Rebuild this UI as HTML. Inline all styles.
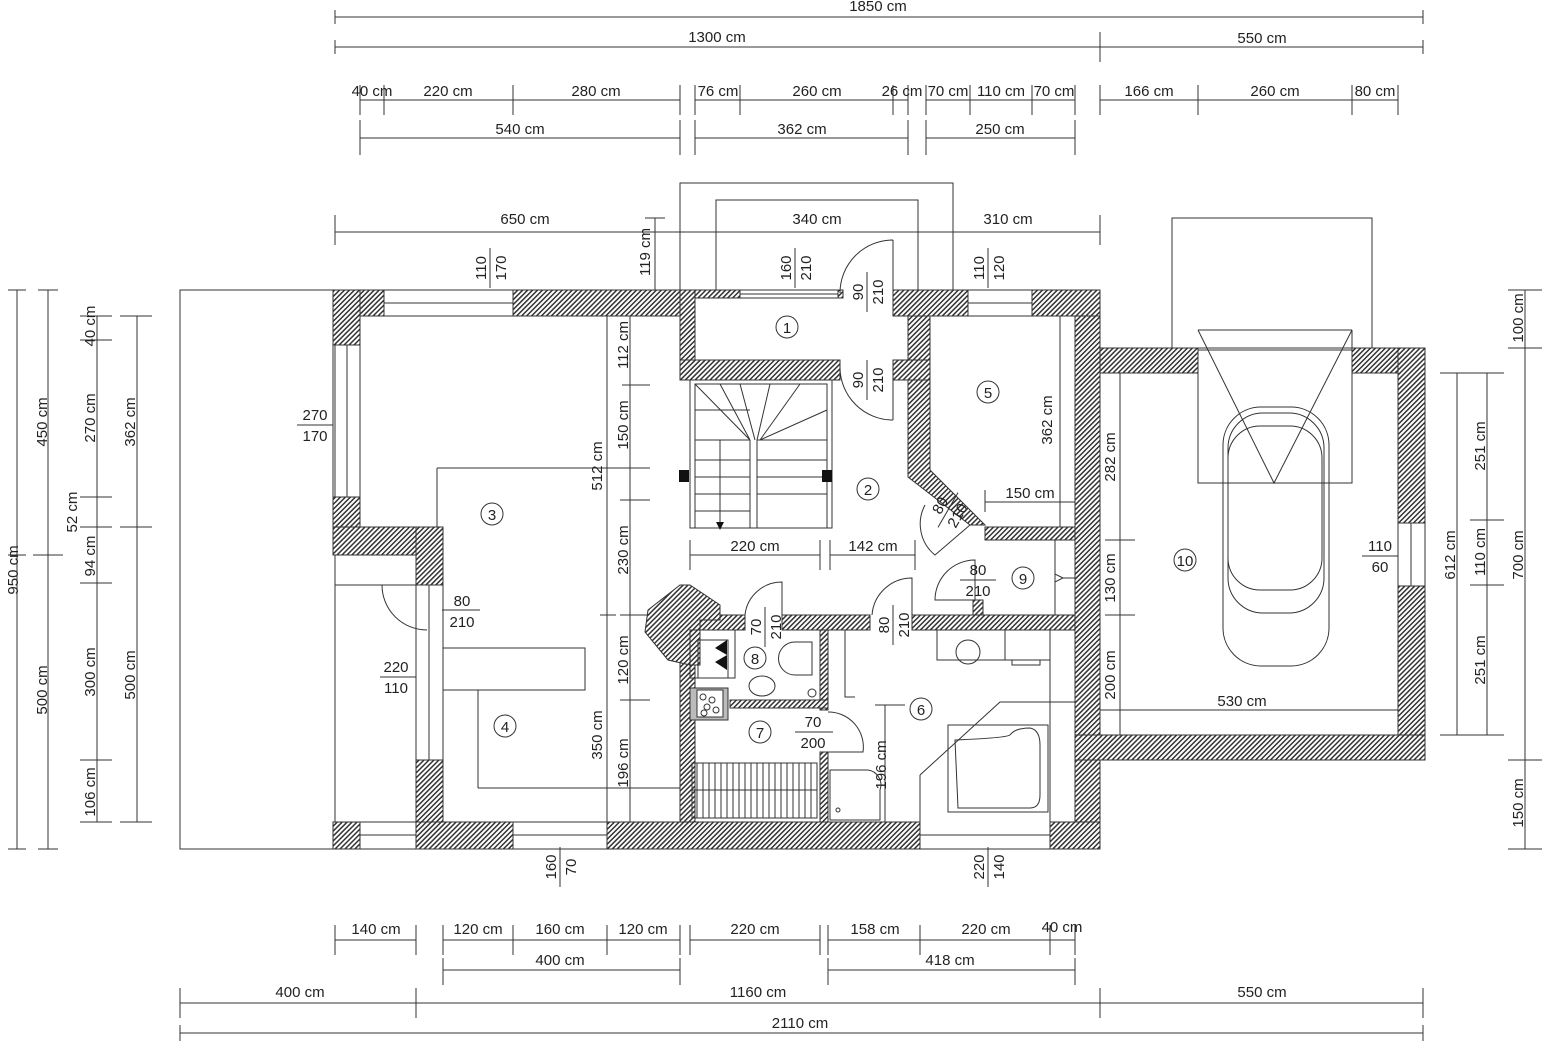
<!DOCTYPE html>
<html><head><meta charset="utf-8"><style>
html,body{margin:0;padding:0;background:#fff}
svg{display:block}
text{font-family:"Liberation Sans",sans-serif;font-size:15px;fill:#222}
.l{stroke:#333;stroke-width:1;fill:none}
.h{fill:url(#hat);stroke:#333;stroke-width:1}
</style></head><body>
<svg width="1542" height="1051" viewBox="0 0 1542 1051" xmlns="http://www.w3.org/2000/svg">
<defs>
<pattern id="hat" width="3.5" height="3.5" patternUnits="userSpaceOnUse" patternTransform="rotate(45)">
<rect width="3.5" height="3.5" fill="#fff"/><rect width="1.5" height="3.5" fill="#333"/></pattern>
</defs>

<g class="l">
<line x1="335" y1="17" x2="1423" y2="17"/><line x1="335" y1="10" x2="335" y2="24"/><line x1="1423" y1="10" x2="1423" y2="24"/>
<line x1="335" y1="47" x2="1423" y2="47"/><line x1="335" y1="40" x2="335" y2="54"/><line x1="1100" y1="32" x2="1100" y2="62"/><line x1="1423" y1="40" x2="1423" y2="54"/>
<line x1="360" y1="100" x2="680" y2="100"/><line x1="695" y1="100" x2="908" y2="100"/><line x1="926" y1="100" x2="1075" y2="100"/><line x1="1100" y1="100" x2="1398" y2="100"/>
<path d="M360 85V115M384 85V115M513 85V115M680 85V115M695 85V115M740 85V115M893 85V115M908 85V115M926 85V115M970 85V115M1032 85V115M1075 85V115M1100 85V115M1198 85V115M1352 85V115M1398 85V115"/>
<line x1="360" y1="138" x2="680" y2="138"/><line x1="695" y1="138" x2="908" y2="138"/><line x1="926" y1="138" x2="1075" y2="138"/>
<path d="M360 120V155M680 120V155M695 120V155M908 120V155M926 120V155M1075 120V155"/>
<line x1="335" y1="232" x2="1100" y2="232"/>
<path d="M335 215V245M716 215V245M918 215V245M1100 215V245"/>
<line x1="335" y1="940" x2="416" y2="940"/><line x1="443" y1="940" x2="680" y2="940"/><line x1="690" y1="940" x2="820" y2="940"/><line x1="828" y1="940" x2="1075" y2="940"/>
<path d="M335 925V955M416 925V955M443 925V955M513 925V955M607 925V955M680 925V955M690 925V955M820 925V955M828 925V955M920 925V955M1050 925V955M1075 925V955"/>
<line x1="443" y1="970" x2="680" y2="970"/><line x1="828" y1="970" x2="1075" y2="970"/>
<path d="M443 958V985M680 958V985M828 958V985M1075 958V985"/>
<line x1="180" y1="1003" x2="1423" y2="1003"/>
<path d="M180 988V1018M416 988V1018M1100 988V1018M1423 988V1018"/>
<line x1="180" y1="1033" x2="1423" y2="1033"/><path d="M180 1025V1041M1423 1025V1041"/>
<line x1="17" y1="290" x2="17" y2="849"/><path d="M8 290H26M8 849H26M8 555H26"/>
<line x1="48" y1="290" x2="48" y2="849"/><path d="M38 290H58M33 555H63M38 849H58"/>
<line x1="97" y1="316" x2="97" y2="822"/><path d="M80 316H112M80 340H112M80 497H112M80 527H112M80 583H112M80 760H112M80 822H112"/>
<line x1="137" y1="316" x2="137" y2="822"/><path d="M120 316H152M120 527H152M120 822H152"/>
<line x1="1525" y1="290" x2="1525" y2="849"/><path d="M1508 290H1542M1508 348H1542M1508 760H1542M1508 849H1542"/>
<line x1="1487" y1="373" x2="1487" y2="735"/><path d="M1470 373H1504M1470 520H1504M1470 585H1504M1470 735H1504"/>
<line x1="1457" y1="373" x2="1457" y2="735"/><path d="M1440 373H1474M1440 735H1474"/>
<line x1="607" y1="316" x2="607" y2="822"/><path d="M600 615H616"/>
<line x1="630" y1="316" x2="630" y2="822"/><path d="M622 385H650M620 468H650M620 500H650M620 615H650M620 700H650"/>
<path d="M437 468H640M437 468V527"/>
<line x1="1120" y1="373" x2="1120" y2="760"/><path d="M1105 540H1135M1105 615H1135"/>
<line x1="1060" y1="316" x2="1060" y2="527"/>
<line x1="885" y1="705" x2="885" y2="822"/><path d="M875 705H905"/>
<line x1="690" y1="555" x2="820" y2="555"/><line x1="830" y1="555" x2="915" y2="555"/><path d="M690 540V570M820 540V570M830 540V570M915 540V570"/>
<line x1="985" y1="502" x2="1075" y2="502"/><path d="M985 490V512"/>
<line x1="1085" y1="710" x2="1398" y2="710"/>
<line x1="655" y1="218" x2="655" y2="290"/><path d="M645 218H665"/>
<line x1="478" y1="788" x2="680" y2="788"/><path d="M478 690V788"/>
<path d="M1063 578H1075M1063 578L1055 574V582Z"/>
</g>

<g text-anchor="middle">
<text x="878" y="11">1850 cm</text>
<text x="717" y="42">1300 cm</text><text x="1262" y="43">550 cm</text>
<text x="372" y="96">40 cm</text><text x="448" y="96">220 cm</text><text x="596" y="96">280 cm</text>
<text x="718" y="96">76 cm</text><text x="817" y="96">260 cm</text><text x="902" y="96">26 cm</text>
<text x="948" y="96">70 cm</text><text x="1001" y="96">110 cm</text><text x="1054" y="96">70 cm</text>
<text x="1149" y="96">166 cm</text><text x="1275" y="96">260 cm</text><text x="1375" y="96">80 cm</text>
<text x="520" y="134">540 cm</text><text x="802" y="134">362 cm</text><text x="1000" y="134">250 cm</text>
<text x="525" y="224">650 cm</text><text x="817" y="224">340 cm</text><text x="1008" y="224">310 cm</text>
<text x="376" y="934">140 cm</text><text x="478" y="934">120 cm</text><text x="560" y="934">160 cm</text><text x="643" y="934">120 cm</text>
<text x="755" y="934">220 cm</text><text x="875" y="934">158 cm</text><text x="986" y="934">220 cm</text><text x="1062" y="932">40 cm</text>
<text x="560" y="965">400 cm</text><text x="950" y="965">418 cm</text>
<text x="300" y="997">400 cm</text><text x="758" y="997">1160 cm</text><text x="1262" y="997">550 cm</text>
<text x="800" y="1028">2110 cm</text>
<text x="755" y="551">220 cm</text><text x="873" y="551">142 cm</text><text x="1030" y="498">150 cm</text><text x="1242" y="706">530 cm</text>
</g>
<g text-anchor="middle">
<text transform="rotate(-90 13 570)" x="13" y="575">950 cm</text>
<text transform="rotate(-90 42 422)" x="42" y="427">450 cm</text>
<text transform="rotate(-90 42 690)" x="42" y="695">500 cm</text>
<text transform="rotate(-90 90 326)" x="90" y="331">40 cm</text>
<text transform="rotate(-90 90 418)" x="90" y="423">270 cm</text>
<text transform="rotate(-90 72 512)" x="72" y="517">52 cm</text>
<text transform="rotate(-90 90 556)" x="90" y="561">94 cm</text>
<text transform="rotate(-90 90 672)" x="90" y="677">300 cm</text>
<text transform="rotate(-90 90 792)" x="90" y="797">106 cm</text>
<text transform="rotate(-90 130 422)" x="130" y="427">362 cm</text>
<text transform="rotate(-90 130 675)" x="130" y="680">500 cm</text>
<text transform="rotate(-90 1518 318)" x="1518" y="323">100 cm</text>
<text transform="rotate(-90 1518 555)" x="1518" y="560">700 cm</text>
<text transform="rotate(-90 1518 803)" x="1518" y="808">150 cm</text>
<text transform="rotate(-90 1480 446)" x="1480" y="451">251 cm</text>
<text transform="rotate(-90 1480 552)" x="1480" y="557">110 cm</text>
<text transform="rotate(-90 1480 660)" x="1480" y="665">251 cm</text>
<text transform="rotate(-90 1450 555)" x="1450" y="560">612 cm</text>
<text transform="rotate(-90 597 466)" x="597" y="471">512 cm</text>
<text transform="rotate(-90 597 735)" x="597" y="740">350 cm</text>
<text transform="rotate(-90 623 345)" x="623" y="350">112 cm</text>
<text transform="rotate(-90 623 425)" x="623" y="430">150 cm</text>
<text transform="rotate(-90 623 550)" x="623" y="555">230 cm</text>
<text transform="rotate(-90 623 660)" x="623" y="665">120 cm</text>
<text transform="rotate(-90 623 763)" x="623" y="768">196 cm</text>
<text transform="rotate(-90 645 252)" x="645" y="257">119 cm</text>
<text transform="rotate(-90 1110 457)" x="1110" y="462">282 cm</text>
<text transform="rotate(-90 1110 578)" x="1110" y="583">130 cm</text>
<text transform="rotate(-90 1110 675)" x="1110" y="680">200 cm</text>
<text transform="rotate(-90 1047 420)" x="1047" y="425">362 cm</text>
<text transform="rotate(-90 881 765)" x="881" y="770">196 cm</text>
</g>

<rect class="l" x="180" y="290" width="155" height="559"/>
<path class="l" d="M680 290V183H953V290M716 290V200H918V290"/>
<rect class="l" x="1172" y="218" width="200" height="130"/>

<g class="h">
<rect x="333" y="290" width="51" height="26"/><rect x="333" y="290" width="27" height="55"/>
<rect x="513" y="290" width="182" height="26"/>
<rect x="680" y="290" width="15" height="90"/><rect x="695" y="290" width="45" height="8"/><rect x="838" y="290" width="5" height="8"/>
<rect x="680" y="360" width="160" height="20"/><rect x="893" y="360" width="37" height="20"/>
<rect x="893" y="290" width="75" height="26"/><rect x="1032" y="290" width="68" height="26"/>
<rect x="908" y="316" width="22" height="44"/>
<path d="M908 380H930V470L985 525H970L908 477Z"/>
<rect x="1075" y="316" width="25" height="533"/>
<rect x="985" y="527" width="90" height="13"/>
<rect x="333" y="497" width="27" height="58"/><rect x="333" y="527" width="110" height="28"/><rect x="416" y="527" width="27" height="58"/>
<rect x="416" y="760" width="27" height="89"/><rect x="333" y="822" width="27" height="27"/>
<rect x="416" y="822" width="97" height="27"/><rect x="607" y="822" width="313" height="27"/><rect x="1050" y="822" width="50" height="27"/>
<rect x="680" y="615" width="15" height="207"/><rect x="680" y="615" width="65" height="15"/><rect x="782" y="615" width="88" height="15"/><rect x="912" y="615" width="163" height="15"/>
<rect x="820" y="630" width="8" height="80"/><rect x="820" y="752" width="8" height="70"/><rect x="730" y="700" width="98" height="8"/>
<rect x="973" y="600" width="10" height="15"/>
<path d="M648 610L680 585H690L720 605V620H700V665H690L668 660L645 632Z"/>
<rect x="1100" y="348" width="98" height="25"/><rect x="1352" y="348" width="73" height="25"/>
<rect x="1398" y="348" width="27" height="175"/><rect x="1398" y="586" width="27" height="174"/>
<rect x="1075" y="735" width="350" height="25"/>
</g>
<g class="l">
<path d="M384 290H513M384 303H513M384 316H513"/>
<path d="M740 290H838M740 294H838M740 298H838"/>
<path d="M968 290H1032M968 303H1032M968 316H1032"/>
<path d="M333 345V497M347 345V497M360 345V497"/>
<path d="M416 585V760M429 585V760M443 585V760"/>
<path d="M335 585V822M335 585H416"/>
<path d="M360 822H416M360 835H416M360 849H416"/>
<path d="M513 822H607M513 835H607M513 849H607"/>
<path d="M920 822V849H1050V822M920 835H1050"/>
<path d="M1398 523V586M1411 523V586M1425 523V586"/>
<path d="M1075 540V615H1055V540M1075 615H973"/>
<path d="M1198 330H1352M1198 373V483H1352V330M1198 350H1352M1198 330L1274 483L1352 330"/>
<rect x="1223" y="407" width="106" height="259" rx="38"/>
<rect x="1228" y="413" width="96" height="200" rx="35"/>
<rect x="1228" y="426" width="94" height="164" rx="32"/>
<path d="M893 240A53 53 0 0 0 840 293M893 240V293"/>
<path d="M893 420A53 53 0 0 1 840 367M893 420V367"/>
<path d="M925 505A40 40 0 0 0 935 555L970 525"/>
<path d="M935 600A40 40 0 0 1 975 560V600Z"/>
<path d="M872 615A40 40 0 0 1 912 578V615"/>
<path d="M745 615A37 37 0 0 1 782 582V615"/>
<path d="M828 712A35 35 0 0 1 863 752H828"/>
<path d="M382 585A45 45 0 0 0 427 630"/>
<rect x="443" y="648" width="142" height="42"/>
<rect x="690" y="380" width="142" height="148"/>
<rect x="695" y="384" width="132" height="144"/>
<path d="M750 440V528M757 440V528M695 410H750M695 440H750M757 440H827M695 460H750M695 477H750M695 494H750M695 511H750M757 460H827M757 477H827M757 494H827"/>
<path d="M695 384L750 440M720 384L750 440M740 384L755 440M770 384L757 440M800 384L760 440M827 410L760 440"/>
<path d="M720 440V522"/>
</g>
<path d="M716 522L724 522L720 530Z" fill="#111"/>
<rect x="679" y="470" width="10" height="12" fill="#111"/><rect x="822" y="470" width="10" height="12" fill="#111"/>
<g class="l">
<rect x="690" y="630" width="45" height="48"/><rect x="698" y="640" width="30" height="38"/>
<rect x="690" y="688" width="38" height="32" fill="#bbb"/><rect x="697" y="690" width="26" height="27" fill="#fff"/>
<rect x="692" y="763" width="125" height="55"/><path d="M692 790H817"/>
<path d="M697 763V818M703 763V818M709 763V818M715 763V818M721 763V818M727 763V818M733 763V818M739 763V818M745 763V818M751 763V818M757 763V818M763 763V818M769 763V818M775 763V818M781 763V818M787 763V818M793 763V818M799 763V818M805 763V818M811 763V818"/>
<ellipse cx="762" cy="686" rx="13" ry="10"/>
<path d="M795 642H812V675H795A14 14 0 0 1 795 642Z"/>
<circle cx="812" cy="693" r="4"/>
<path d="M830 770H868A15 15 0 0 1 880 790V820H830Z"/><circle cx="838" cy="810" r="2"/>
<path d="M937 630V660H1050V630M1005 630V660"/><circle cx="968" cy="652" r="12"/><rect x="1012" y="660" width="28" height="5"/>
<path d="M1050 645V822M920 775L1000 702H1075M920 775V822"/>
<path d="M948 725H1048V812H948Z"/>
<path d="M955 740Q1005 738 1010 735Q1015 728 1030 728Q1040 730 1040 745V795Q1040 808 1030 808H958Z"/>
<path d="M845 630V697H855"/>
<line x1="875" y1="705" x2="905" y2="705"/>
</g>
<path d="M715 648L727 640V655ZM715 662L727 655V670Z" fill="#111"/>
<g fill="#fff" stroke="#333"><circle cx="703" cy="697" r="3"/><circle cx="712" cy="700" r="3"/><circle cx="707" cy="707" r="3"/><circle cx="716" cy="710" r="3"/><circle cx="704" cy="713" r="3"/></g>

<g class="l"><circle cx="787" cy="327" r="11"/><circle cx="868" cy="489" r="11"/><circle cx="492" cy="514" r="11"/><circle cx="505" cy="726" r="11"/><circle cx="988" cy="392" r="11"/><circle cx="921" cy="709" r="11"/><circle cx="760" cy="732" r="11"/><circle cx="755" cy="658" r="11"/><circle cx="1023" cy="578" r="11"/><circle cx="1185" cy="560" r="11"/></g>
<g text-anchor="middle" style="font-size:17px">
<text x="787" y="333">1</text><text x="868" y="495">2</text><text x="492" y="520">3</text><text x="505" y="732">4</text><text x="988" y="398">5</text><text x="921" y="715">6</text><text x="760" y="738">7</text><text x="755" y="664">8</text><text x="1023" y="584">9</text><text x="1185" y="566">10</text>
</g>

<g text-anchor="middle">
<text x="315" y="420">270</text><text x="315" y="441">170</text>
<text x="462" y="606">80</text><text x="462" y="627">210</text>
<text x="396" y="672">220</text><text x="396" y="693">110</text>
<text x="1380" y="551">110</text><text x="1380" y="572">60</text>
<text x="813" y="727">70</text><text x="813" y="748">200</text>
<text x="978" y="575">80</text><text x="978" y="596">210</text>
</g>
<g class="l"><path d="M297 425H333M442 610H480M380 677H416M1362 556H1398M795 732H833M960 580H996"/></g>
<g text-anchor="middle">
<g transform="rotate(-90 490 268)"><text x="490" y="264">110</text><text x="490" y="284">170</text><line x1="470" y1="268" x2="510" y2="268" stroke="#333"/></g>
<g transform="rotate(-90 795 268)"><text x="795" y="264">160</text><text x="795" y="284">210</text><line x1="775" y1="268" x2="815" y2="268" stroke="#333"/></g>
<g transform="rotate(-90 867 292)"><text x="867" y="288">90</text><text x="867" y="308">210</text><line x1="847" y1="292" x2="887" y2="292" stroke="#333"/></g>
<g transform="rotate(-90 867 380)"><text x="867" y="376">90</text><text x="867" y="396">210</text><line x1="847" y1="380" x2="887" y2="380" stroke="#333"/></g>
<g transform="rotate(-90 988 268)"><text x="988" y="264">110</text><text x="988" y="284">120</text><line x1="968" y1="268" x2="1008" y2="268" stroke="#333"/></g>
<g transform="rotate(-60 948 510)"><text x="948" y="506">80</text><text x="948" y="526">210</text><line x1="928" y1="510" x2="968" y2="510" stroke="#333"/></g>
<g transform="rotate(-90 765 627)"><text x="765" y="623">70</text><text x="765" y="643">210</text><line x1="745" y1="627" x2="785" y2="627" stroke="#333"/></g>
<g transform="rotate(-90 893 625)"><text x="893" y="621">80</text><text x="893" y="641">210</text><line x1="873" y1="625" x2="913" y2="625" stroke="#333"/></g>
<g transform="rotate(-90 560 867)"><text x="560" y="863">160</text><text x="560" y="883">70</text><line x1="540" y1="867" x2="580" y2="867" stroke="#333"/></g>
<g transform="rotate(-90 988 867)"><text x="988" y="863">220</text><text x="988" y="883">140</text><line x1="968" y1="867" x2="1008" y2="867" stroke="#333"/></g>
</g>
</svg>
</body></html>
